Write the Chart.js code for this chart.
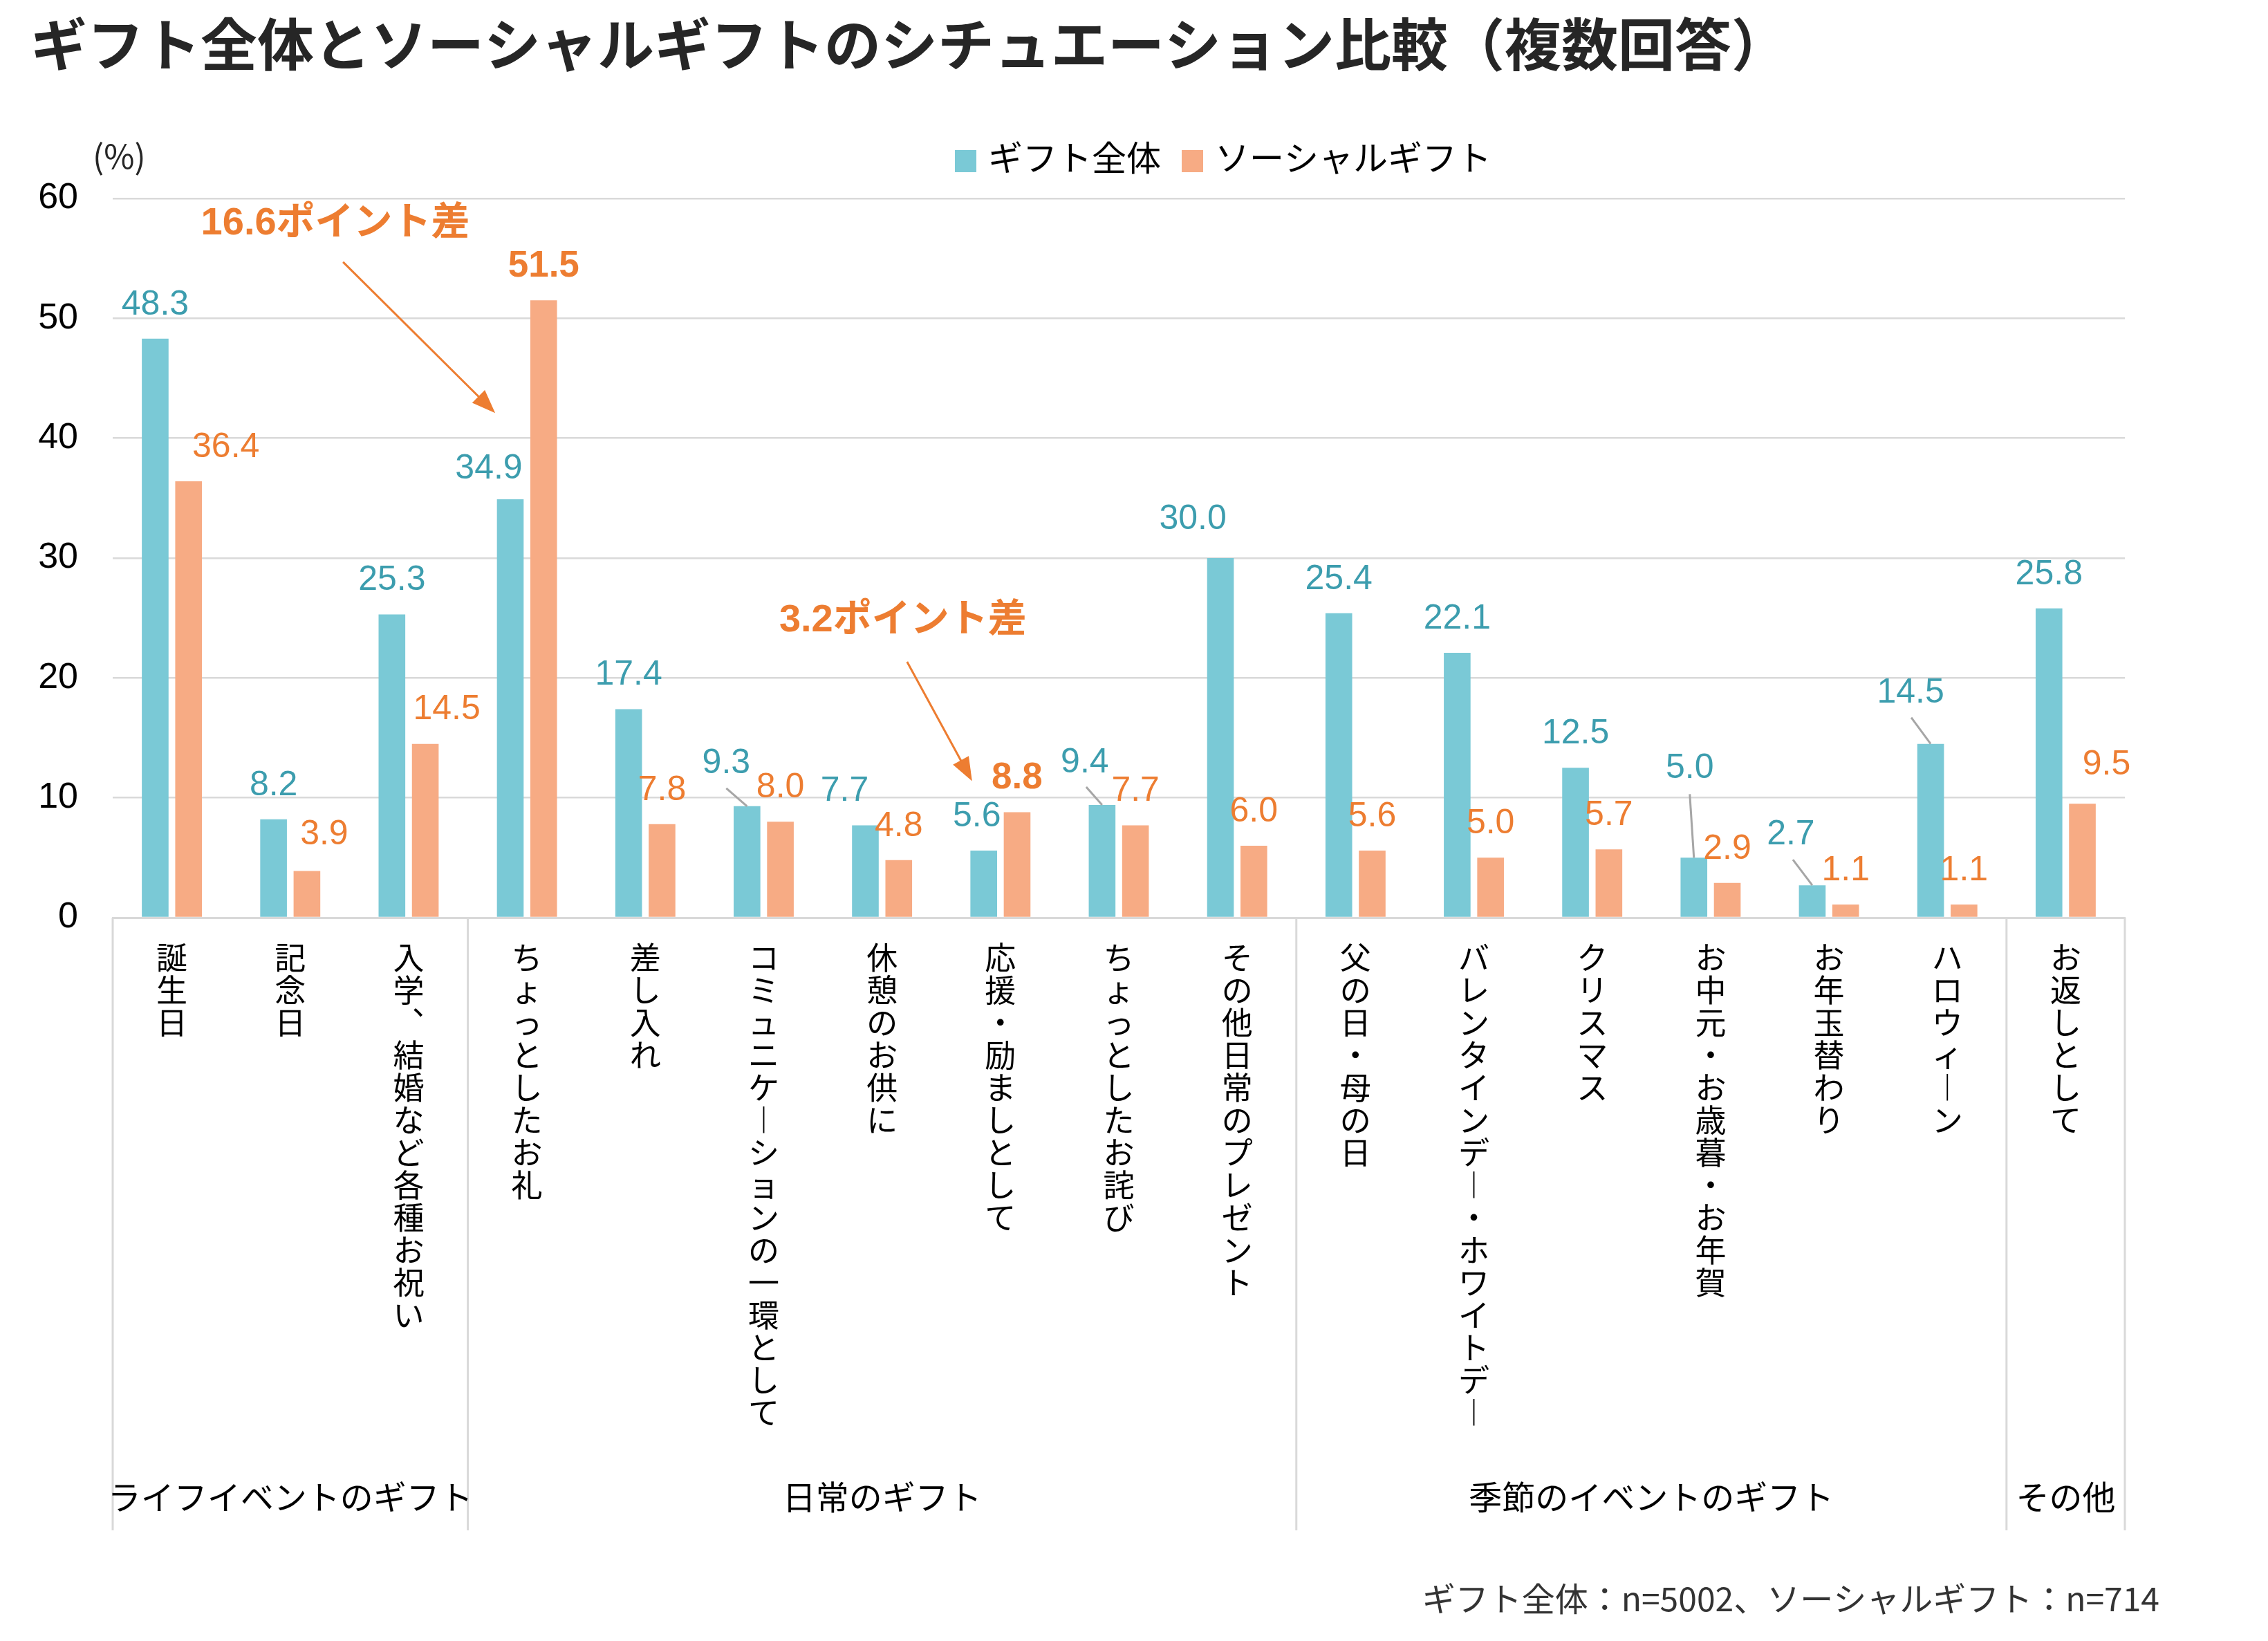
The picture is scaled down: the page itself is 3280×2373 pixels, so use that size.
<!DOCTYPE html>
<html>
<head>
<meta charset="utf-8">
<script src="https://cdn.jsdelivr.net/npm/chart.js@4.4.0/dist/chart.umd.min.js"></script>
<style>
  body { margin: 0; background: #fff; }
  #wrap { width: 3280px; height: 2373px; }
</style>
</head>
<body>
<div id="wrap"><canvas id="giftChart"></canvas></div>
<script>
const categories = [
  '誕生日', '記念日', '入学、結婚など各種お祝い',
  'ちょっとしたお礼', '差し入れ', 'コミュニケーションの一環として', '休憩のお供に',
  '応援・励ましとして', 'ちょっとしたお詫び', 'その他日常のプレゼント',
  '父の日・母の日', 'バレンタインデー・ホワイトデー', 'クリスマス',
  'お中元・お歳暮・お年賀', 'お年玉替わり', 'ハロウィーン',
  'お返しとして',
];
const giftAll = [48.3, 8.2, 25.3, 34.9, 17.4, 9.3, 7.7, 5.6, 9.4, 30.0, 25.4, 22.1, 12.5, 5.0, 2.7, 14.5, 25.8];
const socialGift = [36.4, 3.9, 14.5, 51.5, 7.8, 8.0, 4.8, 8.8, 7.7, 6.0, 5.6, 5.0, 5.7, 2.9, 1.1, 1.1, 9.5];
const seriesNames = ['ギフト全体', 'ソーシャルギフト'];
const groupNames = ['ライフイベントのギフト', '日常のギフト', '季節のイベントのギフト', 'その他'];
const groupSizes = [3, 7, 6, 1];
const yMin = 0;
const yMax = 60;
const yStep = 10;

const titleText = 'ギフト全体とソーシャルギフトのシチュエーション比較（複数回答）';
const noteText = 'ギフト全体：n=5002、ソーシャルギフト：n=714';

const CJK = '"Noto Sans CJK JP", "Noto Sans", sans-serif';
const NUM = '"Liberation Sans", Arial, "Noto Sans CJK JP", sans-serif';
const barColors = ['#7AC9D6', '#F7AB84'];
const labelColors = ['#3C9DAE', '#ED7D31'];

// label nudges (px) to mimic the hand-placed labels of the original
const labelDx = [
  [0, 0, 0, -31, 0, -30, -30, -10, -25, -40, 0, 0, 0, -6, -31, -29, 0],
  [54, 25, 31, 0, 0, 0, 0, 0, 0, 0, 0, 0, 0, 0, 0, 0, 35],
];
const labelDy = [
  [0, 0, 0, 5, 0, -13, 0, 0, -12, -7, 0, 0, 0, -80, -24, -24, 0],
  [0, -3, 0, 0, 0, 0, 0, 0, 0, 0, 0, 0, 0, 0, 0, 0, -7],
];
const leaderIdx = [5, 8, 13, 14, 15];
const leaderEnd = { 5: [-30, -26], 8: [-23, -26], 13: [-6, -92], 14: [-28, -37], 15: [-28, -38] };
const boldIdx = [3, 7];

const toVertical = (s) => Array.from(s).map((ch) => ({ 'ー': '︱', '、': '︑' }[ch] || ch));

function drawArrow(ctx, x1, y1, x2, y2) {
  const a = Math.atan2(y2 - y1, x2 - x1);
  const len = 34, wid = 13;
  ctx.beginPath();
  ctx.moveTo(x1, y1);
  ctx.lineTo(x2 - Math.cos(a) * len * 0.7, y2 - Math.sin(a) * len * 0.7);
  ctx.stroke();
  ctx.beginPath();
  ctx.moveTo(x2, y2);
  ctx.lineTo(x2 - len * Math.cos(a) + wid * Math.sin(a), y2 - len * Math.sin(a) - wid * Math.cos(a));
  ctx.lineTo(x2 - len * Math.cos(a) - wid * Math.sin(a), y2 - len * Math.sin(a) + wid * Math.cos(a));
  ctx.closePath();
  ctx.fill();
}

const overlay = {
  id: 'overlay',
  afterDatasetsDraw(chart) {
    const ctx = chart.ctx;
    ctx.save();
    ctx.textAlign = 'center';
    ctx.textBaseline = 'middle';
    chart.data.datasets.forEach((ds, di) => {
      const meta = chart.getDatasetMeta(di);
      meta.data.forEach((bar, i) => {
        const bold = di === 1 && boldIdx.includes(i);
        ctx.font = (bold ? 'bold 53px ' : '50px ') + NUM;
        ctx.fillStyle = labelColors[di];
        ctx.fillText(ds.data[i].toFixed(1), bar.x + labelDx[di][i], bar.y - 49 + labelDy[di][i]);
        if (di === 0 && leaderIdx.includes(i)) {
          const [ex, ey] = leaderEnd[i];
          ctx.strokeStyle = '#A6A6A6';
          ctx.lineWidth = 3;
          ctx.beginPath();
          ctx.moveTo(bar.x, bar.y);
          ctx.lineTo(bar.x + ex, bar.y + ey);
          ctx.stroke();
        }
      });
    });
    ctx.restore();
  },
  afterDraw(chart) {
    const { ctx, scales: { x, y }, chartArea } = chart;
    ctx.save();
    // title
    ctx.fillStyle = '#262626';
    ctx.textBaseline = 'middle';
    ctx.textAlign = 'left';
    ctx.font = 'bold 82px ' + CJK;
    ctx.fillText(titleText, 44, 64);
    // unit
    ctx.font = '48px ' + CJK;
    ctx.fillText('(%)', 134, 226);
    // legend
    const legendX = [1381, 1709];
    ctx.font = '50px ' + CJK;
    seriesNames.forEach((name, k) => {
      ctx.fillStyle = barColors[k];
      ctx.fillRect(legendX[k], 217, 31, 32);
      ctx.fillStyle = '#000';
      ctx.fillText(name, legendX[k] + 48, 228);
    });
    // group dividers and names
    const half = (x.getPixelForValue(1) - x.getPixelForValue(0)) / 2;
    const bottom = 2213;
    ctx.strokeStyle = '#D9D9D9';
    ctx.lineWidth = 3;
    let start = 0;
    const edges = [x.getPixelForValue(0) - half];
    groupSizes.forEach((n) => {
      start += n;
      edges.push(x.getPixelForValue(start - 1) + half);
    });
    edges.forEach((ex) => {
      ctx.beginPath();
      ctx.moveTo(ex, chartArea.bottom);
      ctx.lineTo(ex, bottom);
      ctx.stroke();
    });
    ctx.fillStyle = '#000';
    ctx.textAlign = 'center';
    ctx.font = '48px ' + CJK;
    groupNames.forEach((g, k) => {
      ctx.fillText(g, (edges[k] + edges[k + 1]) / 2, 2165);
    });
    // annotations
    ctx.fillStyle = '#ED7D31';
    ctx.strokeStyle = '#ED7D31';
    ctx.lineWidth = 3;
    ctx.font = 'bold 56px ' + NUM;
    const c3 = x.getPixelForValue(3);
    const c7 = x.getPixelForValue(7);
    ctx.fillText('16.6ポイント差', c3 - 277, y.getPixelForValue(57.9));
    drawArrow(ctx, c3 - 266, y.getPixelForValue(54.7), c3 - 46, y.getPixelForValue(42.1));
    ctx.fillText('3.2ポイント差', c7 - 141, y.getPixelForValue(24.8));
    drawArrow(ctx, c7 - 135, y.getPixelForValue(21.35), c7 - 41, y.getPixelForValue(11.4));
    // footnote
    ctx.fillStyle = '#333';
    ctx.textAlign = 'right';
    ctx.font = '48px ' + CJK;
    ctx.fillText(noteText, 3123, 2312);
    ctx.restore();
  },
};

const giftChart = document.getElementById('giftChart').getContext('2d');

new Chart(giftChart, {
  type: 'bar',
  data: {
    labels: categories,
    datasets: [
      {
        label: seriesNames[0],
        data: giftAll,
        backgroundColor: barColors[0],
        categoryPercentage: 0.564,
        barPercentage: 0.8,
      },
      {
        label: seriesNames[1],
        data: socialGift,
        backgroundColor: barColors[1],
        categoryPercentage: 0.564,
        barPercentage: 0.8,
      },
    ],
  },
  options: {
    responsive: true,
    maintainAspectRatio: false,
    devicePixelRatio: 1,
    animation: false,
    layout: { padding: { top: 287, right: 207, left: 0, bottom: 0 } },
    plugins: {
      legend: { display: false },
      title: { display: false },
      tooltip: { enabled: false },
    },
    scales: {
      x: {
        grid: { display: true, drawOnChartArea: false, drawTicks: false },
        border: { display: true, color: '#D9D9D9', width: 3 },
        ticks: {
          autoSkip: false,
          maxRotation: 0,
          minRotation: 0,
          padding: 34,
          color: '#000',
          font: { family: CJK, size: 45, lineHeight: '47px' },
          callback: (v, i) => toVertical(categories[i]),
        },
        afterFit: (scale) => { scale.height = 1046; },
      },
      y: {
        min: yMin,
        max: yMax,
        ticks: {
          stepSize: yStep,
          padding: 50,
          color: '#000',
          font: { family: NUM, size: 52 },
        },
        grid: { color: '#D9D9D9', lineWidth: 2.5, drawTicks: false },
        border: { display: false },
        afterFit: (scale) => { scale.width = 163; },
      },
    },
  },
  plugins: [overlay],
});
</script>
</body>
</html>
